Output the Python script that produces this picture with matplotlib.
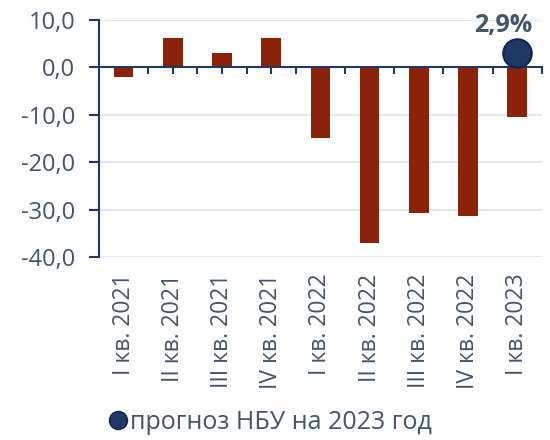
import matplotlib
matplotlib.use("Agg")
import matplotlib.pyplot as plt
import matplotlib.transforms as mtransforms
from matplotlib.lines import Line2D
import numpy as np

# Дані з графіка
quarters = ["I кв. 2021", "II кв. 2021", "III кв. 2021", "IV кв. 2021",
            "I кв. 2022", "II кв. 2022", "III кв. 2022", "IV кв. 2022",
            "I кв. 2023"]
values = [-2.1, 6.1, 2.9, 6.1, -15.0, -37.1, -30.7, -31.4, -10.5]
forecast_value = 2.9
forecast_label = "2,9%"
legend_label = "прогноз НБУ на 2023 год"

bar_color = "#8b220a"
navy = "#1f3864"
text_color = "#44546a"

plt.rcParams['font.family'] = ['Open Sans', 'DejaVu Sans']

fig = plt.figure(figsize=(5.5, 4.4), dpi=100)
ax = fig.add_axes([0.18, 0.416, 0.805, 0.539])

x = np.arange(len(quarters))
ax.bar(x, values, width=0.4, color=bar_color, zorder=2)

# точка прогнозу
ax.scatter([x[-1]], [forecast_value], s=420, color=navy, edgecolor="#0e2456",
           linewidth=1.5, zorder=4, clip_on=False)
ax.annotate(forecast_label, (x[-1], forecast_value), xytext=(-10, 11),
            textcoords="offset points", ha="center", va="bottom",
            fontsize=18, fontweight="bold", color=text_color)

ax.set_xlim(-0.5, len(quarters) - 0.5)
ax.set_ylim(-40, 10)
ax.set_yticks(np.arange(-40, 11, 10))
ax.set_yticklabels([f"{v:.1f}".replace(".", ",") for v in np.arange(-40, 11, 10)])
ax.grid(axis="y", color="#dfe3ea", linewidth=1.2, zorder=0)

for side in ["top", "right"]:
    ax.spines[side].set_visible(False)
ax.spines["left"].set_color(navy)
ax.spines["left"].set_linewidth(1.5)
ax.spines["bottom"].set_position(("data", 0))
ax.spines["bottom"].set_color(navy)
ax.spines["bottom"].set_linewidth(1.5)
ax.spines["bottom"].set_zorder(3)

ax.set_xticks(x)
ax.set_xticks(np.arange(-0.5, len(quarters), 1.0)[1:], minor=True)
ax.tick_params(axis="x", which="both", direction="out", length=5, width=1.5,
               color=navy, labelbottom=False)
ax.tick_params(axis="y", direction="out", length=7, width=1.5, color=navy,
               labelsize=17, labelcolor=text_color, pad=10)

# підписи кварталів під графіком
trans = mtransforms.blended_transform_factory(ax.transData, ax.transAxes)
for xi, lab in zip(x, quarters):
    ax.text(xi, -0.07, lab, transform=trans, rotation=90, ha="center", va="top",
            fontsize=16.5, color=text_color)

handle = Line2D([], [], marker="o", linestyle="none", markersize=13,
                markerfacecolor=navy, markeredgecolor="#0e2456")
fig.legend([handle], [legend_label], loc="lower left", bbox_to_anchor=(0.155, -0.04),
           frameon=False, fontsize=18, labelcolor=text_color,
           handletextpad=0.1, handlelength=0.8)

fig.savefig("out.png", dpi=100)
